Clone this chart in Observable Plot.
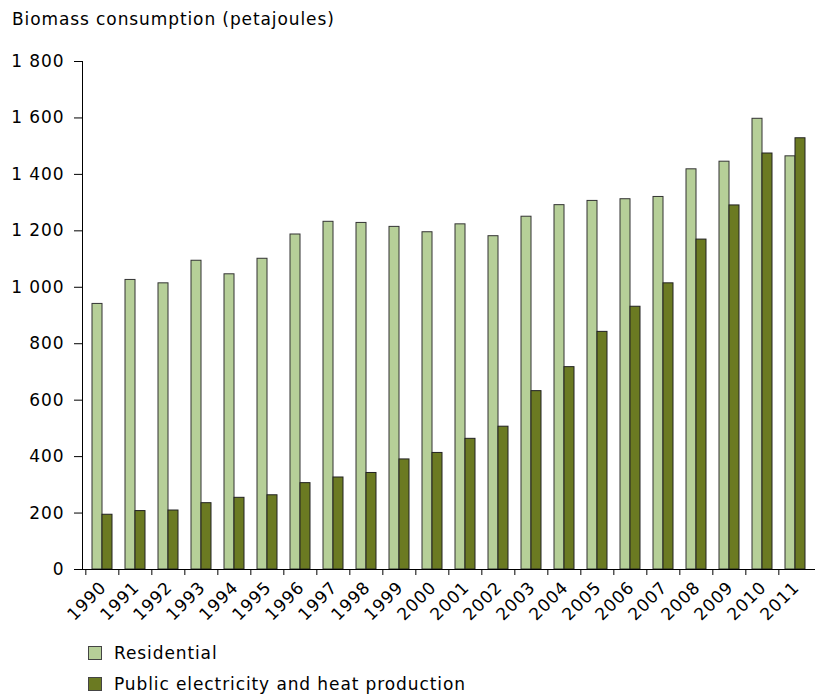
<!DOCTYPE html>
<html>
<head>
<meta charset="utf-8">
<script src="https://cdn.jsdelivr.net/npm/d3@7"></script>
<script src="https://cdn.jsdelivr.net/npm/@observablehq/plot@0.6"></script>
<style>
  html, body { margin: 0; padding: 0; background: #fff; }
  body { width: 815px; height: 695px; position: relative; overflow: hidden; font-family: "DejaVu Sans", Verdana, sans-serif; color: #000; letter-spacing: 0.9px; }
  #title { position: absolute; left: 12px; top: 9px; font-size: 17px; line-height: 21px; white-space: nowrap; }
  #chart { position: absolute; left: 0; top: 0; }
  .leg { position: absolute; left: 88px; font-size: 17px; line-height: 21px; white-space: nowrap; }
  .sw { display: inline-block; width: 12px; height: 12px; border: 1px solid #444; vertical-align: -1px; margin-right: 12px; }
</style>
</head>
<body>
<div id="chart"></div>
<div id="title">Biomass consumption (petajoules)</div>
<div class="leg" style="top:643px"><span class="sw" style="background:#b6cf98"></span>Residential</div>
<div class="leg" style="top:674px"><span class="sw" style="background:#6b7a22"></span>Public electricity and heat production</div>
<script>
const years = ["1990","1991","1992","1993","1994","1995","1996","1997","1998","1999","2000","2001","2002","2003","2004","2005","2006","2007","2008","2009","2010","2011"];
const residential = [941, 1026, 1014, 1094, 1046, 1101, 1187, 1232, 1228, 1214, 1195, 1223, 1181, 1250, 1291, 1306, 1312, 1320, 1418, 1445, 1597, 1464];
const publicHeat = [194, 207, 209, 235, 254, 263, 306, 326, 342, 390, 413, 463, 506, 632, 717, 842, 931, 1014, 1169, 1290, 1474, 1528];
const yTicks = [0, 200, 400, 600, 800, 1000, 1200, 1400, 1600, 1800];
const seriesColors = {Residential: "#b6cf98", Public: "#6b7a22"};

const table = years.map((y, i) => ({year: y, residential: residential[i], public: publicHeat[i]}));
const fmt = d3.formatLocale({decimal: ".", thousands: " ", grouping: [3], currency: ["", ""]}).format(",");

const W = 815, ML = 82, MR = 0;
const step = (W - ML - MR) / years.length;

const chart = Plot.plot({
  width: W,
  height: 625,
  marginLeft: ML,
  marginRight: MR,
  marginTop: 61,
  marginBottom: 56,
  style: {fontFamily: "DejaVu Sans, Verdana, sans-serif", fontSize: "17px", letterSpacing: "0.9px", color: "#000", background: "transparent", overflow: "visible"},
  x: {type: "band", domain: years, paddingInner: 0.4, paddingOuter: 0.2, axis: null, label: null},
  y: {domain: [0, 1800], axis: null, label: null},
  marks: [
    Plot.barY(table, {x: "year", y: "residential", fill: seriesColors.Residential, stroke: "#333", strokeWidth: 1, insetRight: step * 0.3}),
    Plot.barY(table, {x: "year", y: "public", fill: seriesColors.Public, stroke: "#222", strokeWidth: 1, insetLeft: step * 0.3}),
    Plot.axisY({ticks: yTicks, tickFormat: fmt, tickSize: 8, tickPadding: 10, fontSize: 17, stroke: "#000", label: null}),
    Plot.axisX({ticks: years, tickSize: 6, text: null, dx: -step / 2, stroke: "#000", label: null}),
    Plot.axisX({ticks: years, tickSize: 0, tickRotate: -45, tickPadding: 15, fontSize: 17, dx: 1, label: null}),
    Plot.frame({anchor: "left", stroke: "#000"}),
    Plot.ruleY([0], {stroke: "#000"})
  ]
});
document.getElementById("chart").appendChild(chart);
</script>
</body>
</html>
